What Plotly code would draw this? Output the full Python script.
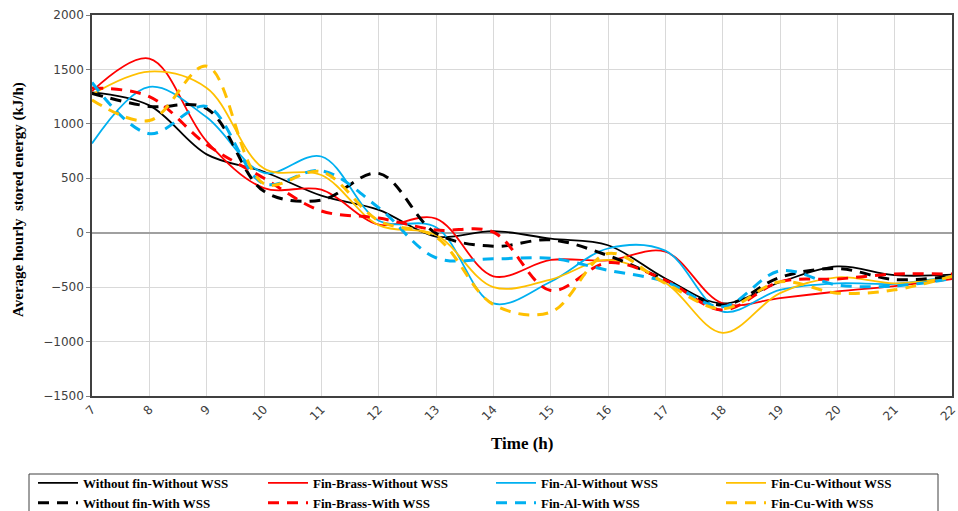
import plotly.graph_objects as go

hours = list(range(7, 23))

without_fin_no_wss = [1290, 1170, 720, 560, 340, 210, -35, 15, -55, -115, -420, -650, -455, -310, -390, -385]
brass_no_wss = [1300, 1600, 840, 410, 395, 75, 130, -400, -250, -255, -175, -650, -600, -540, -490, -425]
al_no_wss = [820, 1340, 1060, 550, 700, 110, 50, -650, -450, -145, -165, -725, -525, -465, -470, -400]
cu_no_wss = [1270, 1480, 1330, 590, 530, 70, -20, -500, -430, -250, -460, -920, -555, -410, -465, -405]

without_fin_wss = [1280, 1160, 1140, 380, 300, 545, -5, -125, -65, -210, -435, -665, -410, -330, -430, -400]
brass_wss = [1330, 1250, 810, 500, 200, 135, 25, 5, -530, -275, -435, -710, -450, -425, -380, -380]
al_wss = [1380, 910, 1160, 450, 570, 230, -230, -240, -235, -345, -450, -680, -350, -480, -490, -420]
cu_wss = [1220, 1030, 1530, 450, 560, 110, -40, -660, -730, -190, -465, -700, -450, -555, -525, -400]

names = [
    "Without fin-Without WSS", "Fin-Brass-Without WSS", "Fin-Al-Without WSS", "Fin-Cu-Without WSS",
    "Without fin-With WSS", "Fin-Brass-With WSS", "Fin-Al-With WSS", "Fin-Cu-With WSS",
]
series = [without_fin_no_wss, brass_no_wss, al_no_wss, cu_no_wss,
          without_fin_wss, brass_wss, al_wss, cu_wss]
colors = ["#000000", "#FF0000", "#00B0F0", "#FFC000"] * 2
legend_ids = ["legend", "legend2", "legend3", "legend4"] * 2

y_title = "Average hourly  stored energy (kJ/h)"
x_title = "Time (h)"

W, H = 958, 511
L, R, T, B = 92, 6, 15, 115
pw, ph = W - L - R, H - T - B

fig = go.Figure()
for i, (nm, ys) in enumerate(zip(names, series)):
    dashed = i >= 4
    fig.add_trace(go.Scatter(
        x=hours, y=ys, name=nm, mode="lines", legend=legend_ids[i],
        line=dict(color=colors[i], width=3 if dashed else 1.8,
                  dash="11px,8px" if dashed else "solid",
                  shape="spline", smoothing=1.0),
    ))

leg_font = dict(family="Liberation Serif", size=13, color="#000000", weight="bold")
col_px = [33, 263, 491, 721]
legends = {}
for k, px in enumerate(col_px):
    legends[legend_ids[k]] = dict(
        orientation="v", xref="container", yref="container",
        x=px / W, y=1 - 468 / H, xanchor="left", yanchor="top",
        font=leg_font, bgcolor="rgba(0,0,0,0)", borderwidth=0,
        itemwidth=40, tracegroupgap=0,
    )

def paper_x(px):
    return (px - L) / pw

def paper_y(py):
    return (H - B - py) / ph

fig.update_layout(
    width=W, height=H,
    margin=dict(l=L, r=R, t=T, b=B, autoexpand=False),
    paper_bgcolor="white", plot_bgcolor="white",
    showlegend=True,
    **legends,
    shapes=[dict(type="rect", xref="paper", yref="paper",
                 x0=paper_x(29), x1=paper_x(938), y0=paper_y(474), y1=paper_y(525),
                 line=dict(color="#404040", width=1), fillcolor="rgba(0,0,0,0)", layer="below")],
    annotations=[
        dict(text=y_title, xref="paper", yref="paper", x=paper_x(19), y=paper_y(200),
             textangle=-90, showarrow=False, xanchor="center", yanchor="middle",
             font=dict(family="Liberation Serif", size=15, color="#000000", weight="bold")),
        dict(text=x_title, xref="paper", yref="paper", x=paper_x(522), y=paper_y(443),
             showarrow=False, xanchor="center", yanchor="middle",
             font=dict(family="Liberation Serif", size=17, color="#000000", weight="bold")),
    ],
    xaxis=dict(
        range=[7, 22], tickvals=hours, ticktext=[str(h) for h in hours],
        tickangle=-45, showgrid=True, gridcolor="#d9d9d9", gridwidth=1,
        showline=True, linecolor="#404040", linewidth=1.5, mirror=True,
        ticks="", zeroline=False, ticklabeloverflow="allow",
        tickfont=dict(family="DejaVu Sans", size=12, color="#404040"),
    ),
    yaxis=dict(
        range=[-1500, 2000], dtick=500, showgrid=True, gridcolor="#d9d9d9", gridwidth=1,
        showline=True, linecolor="#404040", linewidth=1.5, mirror=True,
        zeroline=True, zerolinecolor="#a0a0a0", zerolinewidth=1.5,
        ticks="outside", ticklen=4, tickcolor="#808080",
        tickfont=dict(family="DejaVu Sans", size=12, color="#404040"),
    ),
)

fig.write_html("out.html")
